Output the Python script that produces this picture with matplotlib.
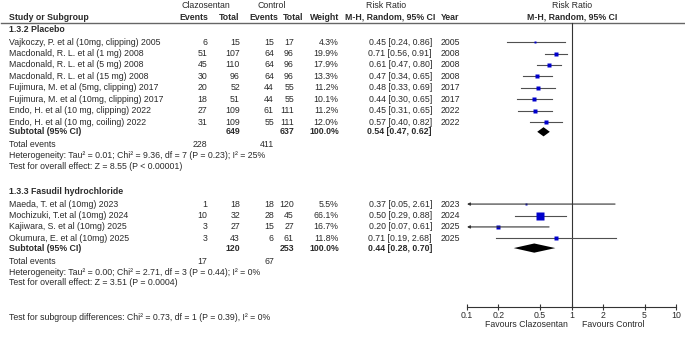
import matplotlib
matplotlib.use("Agg")
import matplotlib.pyplot as plt
import numpy as np

plt.rcParams["font.family"] = ["Liberation Sans", "DejaVu Sans"]

# ---- Data -------------------------------------------------------------
placebo_studies = [
    "Vajkoczy, P. et al (10mg, clipping) 2005",
    "Macdonald, R. L. et al (1 mg) 2008",
    "Macdonald, R. L. et al (5 mg) 2008",
    "Macdonald, R. L. et al (15 mg) 2008",
    "Fujimura, M. et al (5mg, clipping) 2017",
    "Fujimura, M. et al (10mg, clipping) 2017",
    "Endo, H. et al (10 mg, clipping) 2022",
    "Endo, H. et al (10 mg, coiling) 2022",
]
placebo_clz_events = [6, 51, 45, 30, 20, 18, 27, 31]
placebo_clz_total = [15, 107, 110, 96, 52, 51, 109, 109]
placebo_ctl_events = [15, 64, 64, 64, 44, 44, 61, 55]
placebo_ctl_total = [17, 96, 96, 96, 55, 55, 111, 111]
placebo_weight = [4.3, 19.9, 17.9, 13.3, 11.2, 10.1, 11.2, 12.0]
placebo_rr = [0.45, 0.71, 0.61, 0.47, 0.48, 0.44, 0.45, 0.57]
placebo_lo = [0.24, 0.56, 0.47, 0.34, 0.33, 0.30, 0.31, 0.40]
placebo_hi = [0.86, 0.91, 0.80, 0.65, 0.69, 0.65, 0.65, 0.82]
placebo_year = [2005, 2008, 2008, 2008, 2017, 2017, 2022, 2022]
placebo_sub = {"clz_total": 649, "ctl_total": 637, "rr": 0.54, "lo": 0.47, "hi": 0.62,
               "clz_events": 228, "ctl_events": 411}
placebo_het = "Heterogeneity: Tau\u00b2 = 0.01; Chi\u00b2 = 9.36, df = 7 (P = 0.23); I\u00b2 = 25%"
placebo_z = "Test for overall effect: Z = 8.55 (P < 0.00001)"

fasudil_studies = [
    "Maeda, T. et al (10mg) 2023",
    "Mochizuki, T.et al (10mg) 2024",
    "Kajiwara, S. et al (10mg) 2025",
    "Okumura, E. et al (10mg) 2025",
]
fasudil_clz_events = [1, 10, 3, 3]
fasudil_clz_total = [18, 32, 27, 43]
fasudil_ctl_events = [18, 28, 15, 6]
fasudil_ctl_total = [120, 45, 27, 61]
fasudil_weight = [5.5, 66.1, 16.7, 11.8]
fasudil_rr = [0.37, 0.50, 0.20, 0.71]
fasudil_lo = [0.05, 0.29, 0.07, 0.19]
fasudil_hi = [2.61, 0.88, 0.61, 2.68]
fasudil_year = [2023, 2024, 2025, 2025]
fasudil_sub = {"clz_total": 120, "ctl_total": 253, "rr": 0.44, "lo": 0.28, "hi": 0.70,
               "clz_events": 17, "ctl_events": 67}
fasudil_het = "Heterogeneity: Tau\u00b2 = 0.00; Chi\u00b2 = 2.71, df = 3 (P = 0.44); I\u00b2 = 0%"
fasudil_z = "Test for overall effect: Z = 3.51 (P = 0.0004)"

subgroup_test = "Test for subgroup differences: Chi\u00b2 = 0.73, df = 1 (P = 0.39), I\u00b2 = 0%"

x_ticks = [0.1, 0.2, 0.5, 1, 2, 5, 10]
x_tick_labels = ["0.1", "0.2", "0.5", "1", "2", "5", "10"]

# ---- Layout -----------------------------------------------------------
W, H = 685, 337
FS = 6.35
TXT = "#2a2a2a"
CI_COL = "#505050"
ROW = 11.43

fig = plt.figure(figsize=(W / 100, H / 100), dpi=100)
ax = fig.add_axes([0, 0, 1, 1])
ax.set_xlim(0, W)
ax.set_ylim(H, 0)
ax.axis("off")

AX_L, AX_R, AX_B = 467, 676, 306.5
fx = fig.add_axes([AX_L / W, (H - AX_B) / H, (AX_R - AX_L) / W, AX_B / H])
fx.set_xscale("log")
fx.set_xlim(0.1, 10)
fx.set_ylim(AX_B, 0)
fx.patch.set_alpha(0)
for s in ("top", "left", "right"):
    fx.spines[s].set_visible(False)
fx.spines["bottom"].set_color("#333333")
fx.spines["bottom"].set_linewidth(0.8)
fx.set_yticks([])
fx.set_xticks(x_ticks)
fx.set_xticklabels(x_tick_labels)
fx.xaxis.set_minor_locator(matplotlib.ticker.NullLocator())
fx.tick_params(axis="x", direction="inout", length=5, width=0.8, color="#333333",
               labelsize=FS, labelcolor=TXT, pad=0.5)

COL = {"study": 9, "ce": 207.5, "ct": 240, "ke": 274, "kt": 294,
       "w": 338.5, "ci": 432, "yr": 441}


def t(x, y, s, ha="left", bold=False, **kw):
    ax.text(x, y, s, ha=ha, va="center", fontsize=FS, color=TXT,
            fontweight="bold" if bold else "normal", **kw)


# Header
t(206, 6, "Clazosentan", ha="center")
t(272, 6, "Control", ha="center")
t(386, 6, "Risk Ratio", ha="center")
t(572, 6, "Risk Ratio", ha="center")
hy = 17
t(COL["study"], hy, "Study or Subgroup", bold=True)
t(208, hy, "Events", ha="right", bold=True)
t(239.5, hy, "Total", ha="right", bold=True)
t(278, hy, "Events", ha="right", bold=True)
t(303, hy, "Total", ha="right", bold=True)
t(339, hy, "Weight", ha="right", bold=True)
t(390, hy, "M-H, Random, 95% CI", ha="center", bold=True)
t(COL["yr"], hy, "Year", bold=True)
t(572, hy, "M-H, Random, 95% CI", ha="center", bold=True)
ax.plot([1, W], [22.5, 22.5], color="#666666", lw=1.0)

# Null line
fx.plot([1, 1], [23, AX_B], color="#333333", lw=0.8, clip_on=False)


def draw_group(title, y_title, studies, ce, ct, ke, kt, w, rr, lo, hi, yr, sub, het, z):
    t(COL["study"], y_title, title, bold=True)
    ys = y_title + ROW * (np.arange(len(studies)) + 1.1)
    for i, y in enumerate(ys):
        t(COL["study"], y, studies[i])
        t(COL["ce"], y, str(ce[i]), ha="right")
        t(COL["ct"], y, str(ct[i]), ha="right")
        t(COL["ke"], y, str(ke[i]), ha="right")
        t(COL["kt"], y, str(kt[i]), ha="right")
        t(COL["w"], y, f"{w[i]:.1f}%", ha="right")
        t(COL["ci"], y, f"{rr[i]:.2f} [{lo[i]:.2f}, {hi[i]:.2f}]", ha="right")
        t(COL["yr"], y, str(yr[i]))
        # confidence interval, with an arrow when it runs past the axis
        left = max(lo[i], 0.1)
        if lo[i] < 0.1:
            fx.annotate("", xy=(0.1, y), xytext=(hi[i], y),
                        arrowprops=dict(arrowstyle="-|>", color="#333333", lw=0.8,
                                        mutation_scale=4, shrinkA=0, shrinkB=0),
                        annotation_clip=False)
        else:
            fx.plot([left, hi[i]], [y, y], color=CI_COL, lw=0.8)
        side = 1.05 * np.sqrt(w[i])
        fx.plot(rr[i], y, marker="s", ms=side * 0.72, color="#0000cc", mec="none")
    ys_sub = ys[-1] + ROW * 0.85
    t(COL["study"], ys_sub, "Subtotal (95% CI)", bold=True)
    t(COL["ct"], ys_sub, str(sub["clz_total"]), ha="right", bold=True)
    t(COL["kt"], ys_sub, str(sub["ctl_total"]), ha="right", bold=True)
    t(COL["w"] + 0.5, ys_sub, "100.0%", ha="right", bold=True)
    t(COL["ci"], ys_sub, f"{sub['rr']:.2f} [{sub['lo']:.2f}, {sub['hi']:.2f}]",
      ha="right", bold=True)
    hh = 4.6
    fx.fill([sub["lo"], sub["rr"], sub["hi"], sub["rr"]],
            [ys_sub, ys_sub - hh, ys_sub, ys_sub + hh], color="black", lw=0)
    y_ev = ys_sub + ROW * 1.15
    t(COL["study"], y_ev, "Total events")
    t(COL["ce"], y_ev, str(sub["clz_events"]), ha="right")
    t(COL["ke"], y_ev, str(sub["ctl_events"]), ha="right")
    t(COL["study"], y_ev + ROW * 0.95, het)
    t(COL["study"], y_ev + ROW * 1.9, z)


draw_group("1.3.2 Placebo", 29.5, placebo_studies, placebo_clz_events, placebo_clz_total,
           placebo_ctl_events, placebo_ctl_total, placebo_weight, placebo_rr,
           placebo_lo, placebo_hi, placebo_year, placebo_sub, placebo_het, placebo_z)
draw_group("1.3.3 Fasudil hydrochloride", 191.5, fasudil_studies, fasudil_clz_events,
           fasudil_clz_total, fasudil_ctl_events, fasudil_ctl_total, fasudil_weight,
           fasudil_rr, fasudil_lo, fasudil_hi, fasudil_year, fasudil_sub,
           fasudil_het, fasudil_z)

t(COL["study"], 318, subgroup_test)
t(526, 324.5, "Favours Clazosentan", ha="center")
t(613, 324.5, "Favours Control", ha="center")

fig.savefig("out.png", dpi=100)
